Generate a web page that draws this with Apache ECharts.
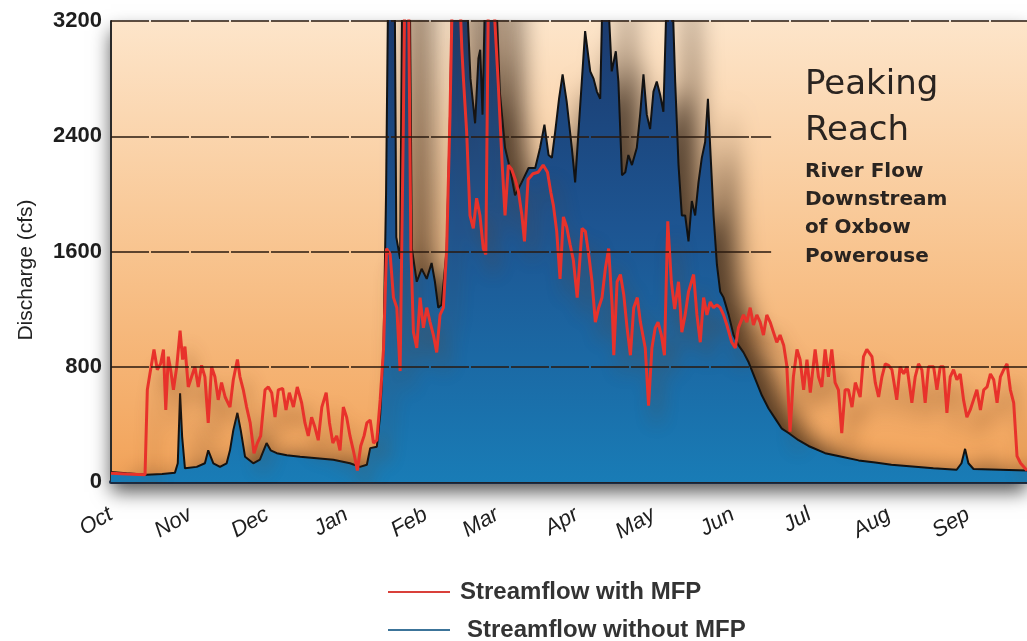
<!DOCTYPE html>
<html>
<head>
<meta charset="utf-8">
<script src="https://cdn.jsdelivr.net/npm/echarts@6/dist/echarts.min.js"></script>
<style>
html,body{margin:0;padding:0;background:#fff;}
#chart{width:1027px;height:641px;}
</style>
</head>
<body>
<div id="chart"></div>
<script>
// ---- Data (day of water year, starting Oct 1) ----
const monthLabels = ['Oct','Nov','Dec','Jan','Feb','Mar','Apr','May','Jun','Jul','Aug','Sep'];
const monthStartDays = [0,31,61,92,123,151,182,212,243,273,304,335];
const yTicks = [0,800,1600,2400,3200];

const withMfpDay = [
0,6,13.3,14.2,15.2,16.8,18.1,19.4,20.5,21.4,
22.4,23.3,24.4,25.7,27,28,28.9,30.2,31.5,32.8,
34.1,35.4,36.7,38,39.3,40.6,41.9,43.2,44.6,46.5,
47.8,49.4,50.4,51.7,53,54.4,55.9,57.2,58.5,60.2,
61.5,62.8,64.1,65.4,67.1,68.4,69.7,71.3,72.8,74.5,
75.8,77.1,78.4,79.7,81,82.4,84.1,85.4,86.7,88.2,
89.5,90.8,92.1,93.4,94.7,96.3,97.6,98.9,100,101.3,
102.6,103.9,105.2,106.5,107.7,109.1,110.4,111.7,113,114.2,
114.8,116.3,117.2,118.2,119.5,120.8,122.1,123.4,124.7,126,
127.3,128.6,129.9,131.2,132.5,133.4,136.3,137.1,137.8,139,
140.3,141.6,142.9,144.2,145.5,146.5,147.5,149.4,151.3,152.9,
154,155.3,156.6,158,159.3,160.6,161.6,163,164.9,166.9,
168.9,170.6,171.9,172.9,174.2,175.5,176.8,178.1,179.4,180.7,
182.2,184.1,185.4,186.7,188,189.3,190.6,191.9,193.2,194.5,
195.9,196.5,197.8,199.1,200.4,201.7,203,204.3,205.7,206.9,
208.8,210.1,211.4,212.7,213.8,215.1,216.3,217.6,219,220.3,
221.8,223.1,224.4,225.7,227.7,229,230.3,231.6,232.9,234.2,
235.5,236.8,238.1,239.4,240.7,242.6,244,245.2,247.2,248.5,
249.8,251.1,252.4,253.7,255,256.3,257.6,258.9,260.2,261.5,
262.9,264.1,265.4,266.7,268.1,269.3,270.7,272,273.3,275.2,
276.5,277.8,279.1,280.4,281.7,283,284.3,285.6,286.9,288.2,
289.6,290.9,292.8,294.1,295.4,297.4,298.7,300,301.3,302.6,
303.9,305.2,307.1,308.4,309.8,311.1,313,314.3,315.6,316.9,
318.2,319.5,321.5,322.8,324.1,325.4,326.7,328,329.3,330.6,
331.9,333.2,334.5,335.8,337.1,338.4,339.8,341.1,342.4,343.7,
345,346.3,347.6,348.9,350.2,351.5,352.8,354.1,355.5,358
];
const withMfpCfs = [
60,55,50,640,750,920,780,820,920,500,
870,780,640,800,1050,850,940,660,730,800,
660,810,730,410,800,730,570,690,590,520,
710,850,730,640,520,410,200,270,320,640,
660,620,450,640,650,500,620,520,660,550,
410,320,450,380,290,520,620,410,270,320,
220,520,450,320,220,80,250,320,410,430,
270,290,570,920,1620,1580,1280,1210,770,2400,
3400,3400,1620,1040,930,1280,1070,1210,1110,1020,
900,1160,1210,1620,2550,3400,3400,3010,2780,2430,
1850,1760,1970,1850,1620,1580,3400,3400,2780,2200,
1850,2200,2170,2100,2010,1850,1670,2100,2140,2150,
2200,2150,2010,1920,1740,1410,1840,1770,1650,1540,
1280,1760,1740,1580,1390,1110,1210,1280,1480,1620,
1210,880,1390,1440,1300,1070,880,1210,1280,1110,
930,530,930,1070,1110,1020,880,1810,1390,1200,
1390,1040,1160,1320,1440,1160,970,1280,1160,1250,
1210,1230,1210,1160,1090,970,930,1070,1160,1110,
1210,1090,1160,1110,1020,1160,1110,1040,970,1020,
950,810,350,730,920,850,640,850,620,920,
730,660,920,730,920,690,640,340,640,640,
520,690,590,870,920,870,690,590,730,820,
810,780,570,800,750,800,550,730,820,780,
550,800,800,640,800,800,480,730,780,710,
750,570,450,500,570,640,500,640,660,750,
710,550,730,780,820,640,550,180,130,80
];

const withoutMfpDay = [
0,6,13.9,20,25,26.1,27,27.8,28.9,33.5,
36.7,38,40,42.6,45.2,46.5,47.8,49.4,50.7,52.4,
55.6,58.2,60.8,62.4,64.8,68.7,73.9,80.4,86.9,93.4,
97.3,100,101.3,103.9,105.2,106.5,107.5,108.3,110.9,111.5,
113,113.8,116.8,117.6,119.5,121.4,123.4,125.3,126.6,127.9,
129.2,131.2,132.5,133.3,139,140.5,142.3,143.6,144.3,145.2,
146.2,150.5,152,154,156,157.9,160.5,163.2,165.8,167.7,
169.4,171,172.3,173.6,175.1,176.5,178.1,180.1,181.4,182.7,
184,185.3,187.3,188.6,189.9,191.2,192.1,194.2,195.7,197.3,
198.3,199.7,201,202.2,203.6,205.5,206.8,208.1,209.4,210.7,
212,213.3,214.6,215.9,217.2,219.4,220.5,221.8,223.1,224.4,
225.7,227,228.3,229.6,230.9,232.2,233.3,234.2,235.5,236.8,
238.1,239.4,241.4,243.3,245.2,247.2,249.1,251.7,254.4,257,
259.6,262.2,264.8,268.7,272.6,279.1,285.6,292.2,298.7,305,
312,321.4,330.5,332.4,333.8,335.1,337.1,347.5,358
];
const withoutMfpCfs = [
70,60,50,55,65,130,615,315,95,105,
130,220,130,105,130,220,360,480,360,175,
130,155,270,220,200,185,175,165,155,130,
105,120,235,245,465,930,2000,3400,3400,1700,
1550,3400,3400,1620,1390,1480,1410,1520,1390,1210,
1230,1620,2550,3400,3400,2800,2490,2940,3000,2550,
3400,3400,2700,2320,2170,1990,2080,2180,2180,2320,
2480,2270,2250,2430,2660,2830,2640,2320,2080,2430,
2780,3130,2850,2800,2710,2660,3400,3400,2850,2990,
2780,2130,2150,2270,2200,2320,2550,2830,2550,2450,
2710,2780,2690,2570,3400,3400,2780,2200,1850,1850,
1670,1950,1850,2080,2250,2360,2660,2320,1850,1510,
1320,1280,1160,1020,950,900,835,720,600,510,
440,370,340,290,250,200,175,150,135,120,
110,95,85,130,230,130,90,85,80
];

// ---- Layout constants ----
const lastDay = 358;          // right edge of the visible plot
const shortGridEndDay = 258;  // 1600/2400 guide lines stop before the caption

function zip(a, b) { return a.map((d, i) => [d, b[i]]); }

const chart = echarts.init(document.getElementById('chart'), null, {renderer: 'canvas'});

const gridLineStyle = {color: '#2a1a0f', width: 1.6, type: [38, 2]};
const legendText = {fontFamily: 'Liberation Sans', fontWeight: 'bold', fontSize: 24, color: '#333', lineHeight: 26};

const option = {
  animation: false,
  backgroundColor: '#ffffff',
  grid: {
    left: 111, right: 0, top: 21, bottom: 159,
    show: true,
    borderWidth: 0,
    outerBoundsMode: 'none',
    backgroundColor: {
      type: 'linear', x: 0, y: 0, x2: 0, y2: 1,
      colorStops: [
        {offset: 0, color: '#fde5ca'},
        {offset: 0.5, color: '#f8c48f'},
        {offset: 1, color: '#f2a258'}
      ]
    },
    shadowColor: 'rgba(30,30,30,0.75)',
    shadowBlur: 18,
    shadowOffsetY: 10
  },
  legend: [
    {
      left: 383, top: 574,
      itemWidth: 62, itemHeight: 2,
      textStyle: Object.assign({}, legendText, {padding: [0, 0, 0, 5]}),
      data: [{name: 'Streamflow with MFP', icon: 'rect', itemStyle: {color: '#d9403a'}}]
    },
    {
      left: 383, top: 612,
      itemWidth: 62, itemHeight: 2,
      textStyle: Object.assign({}, legendText, {padding: [0, 0, 0, 12]}),
      data: [{name: 'Streamflow without MFP', icon: 'rect', itemStyle: {color: '#3c7499'}}]
    }
  ],
  xAxis: {
    type: 'value',
    min: 0, max: lastDay,
    splitLine: {show: false},
    axisTick: {show: false},
    offset: 3,
    axisLine: {show: true, lineStyle: {color: '#1b2c44', width: 4}},
    axisLabel: {
      customValues: monthStartDays,
      showMinLabel: true,
      rotate: 30,
      margin: 28,
      fontFamily: 'Liberation Sans',
      fontStyle: 'italic',
      fontSize: 22,
      color: '#1e1e1e',
      formatter: function (v) {
        const i = monthStartDays.indexOf(Math.round(v));
        return i >= 0 ? monthLabels[i] : '';
      }
    }
  },
  yAxis: {
    type: 'value',
    min: 0, max: 3200, interval: 800,
    splitLine: {show: false},
    axisTick: {show: false},
    axisLine: {show: true, lineStyle: {color: '#2a2a2a', width: 2}},
    axisLabel: {
      margin: 9,
      fontFamily: 'Liberation Sans',
      fontWeight: 'bold',
      fontSize: 22,
      color: '#1e1e1e',
      formatter: function (v) { return yTicks.indexOf(v) >= 0 ? String(v) : ''; }
    }
  },
  graphic: [
    {type: 'text', x: 26, y: 270, rotation: Math.PI / 2,
     style: {text: 'Discharge (cfs)', fontFamily: 'Liberation Sans', fontSize: 21, fill: '#222', textAlign: 'center', textVerticalAlign: 'middle'}},
    {type: 'text', left: 805, top: 68, style: {text: 'Peaking', fontFamily: 'DejaVu Sans', fontSize: 34, fill: '#2a2420'}},
    {type: 'text', left: 805, top: 114, style: {text: 'Reach', fontFamily: 'DejaVu Sans', fontSize: 34, fill: '#2a2420'}},
    {type: 'text', left: 805, top: 162, style: {text: 'River Flow', fontFamily: 'DejaVu Sans', fontWeight: 'bold', fontSize: 20, fill: '#2a2420'}},
    {type: 'text', left: 805, top: 190, style: {text: 'Downstream', fontFamily: 'DejaVu Sans', fontWeight: 'bold', fontSize: 20, fill: '#2a2420'}},
    {type: 'text', left: 805, top: 218, style: {text: 'of Oxbow', fontFamily: 'DejaVu Sans', fontWeight: 'bold', fontSize: 20, fill: '#2a2420'}},
    {type: 'text', left: 805, top: 247, style: {text: 'Powerouse', fontFamily: 'DejaVu Sans', fontWeight: 'bold', fontSize: 20, fill: '#2a2420'}}
  ],
  series: [
    {
      name: 'guides',
      type: 'line',
      z: 1,
      data: [[0, 0]],
      symbol: 'none',
      lineStyle: {opacity: 0},
      silent: true,
      markLine: {
        silent: true,
        symbol: ['none', 'none'],
        label: {show: false},
        lineStyle: gridLineStyle,
        data: [
          {yAxis: 800},
          [{coord: [0, 1600]}, {coord: [shortGridEndDay, 1600]}],
          [{coord: [0, 2400]}, {coord: [shortGridEndDay, 2400]}],
          {yAxis: 3200}
        ]
      }
    },
    {
      name: 'Streamflow without MFP',
      type: 'line',
      z: 2,
      color: '#3c7499',
      data: zip(withoutMfpDay, withoutMfpCfs),
      symbol: 'none',
      showSymbol: false,
      clip: true,
      lineStyle: {color: '#121212', width: 2},
      areaStyle: {
        opacity: 1,
        color: {
          type: 'linear', global: true, x: 0, y: 21, x2: 0, y2: 482,
          colorStops: [
            {offset: 0, color: '#1b3a6d'},
            {offset: 0.45, color: '#1d5592'},
            {offset: 1, color: '#197cb6'}
          ]
        },
        shadowColor: 'rgba(35,22,12,0.75)',
        shadowBlur: 24,
        shadowOffsetX: 22,
        shadowOffsetY: 6
      }
    },
    {
      name: 'Streamflow with MFP',
      type: 'line',
      z: 3,
      color: '#d9403a',
      data: zip(withMfpDay, withMfpCfs),
      symbol: 'none',
      showSymbol: false,
      clip: true,
      lineStyle: {
        color: '#e8322b', width: 3,
        shadowColor: 'rgba(110,60,20,0.45)',
        shadowBlur: 18,
        shadowOffsetX: 8,
        shadowOffsetY: 18
      }
    }
  ]
};
chart.setOption(option);
</script>
</body>
</html>
